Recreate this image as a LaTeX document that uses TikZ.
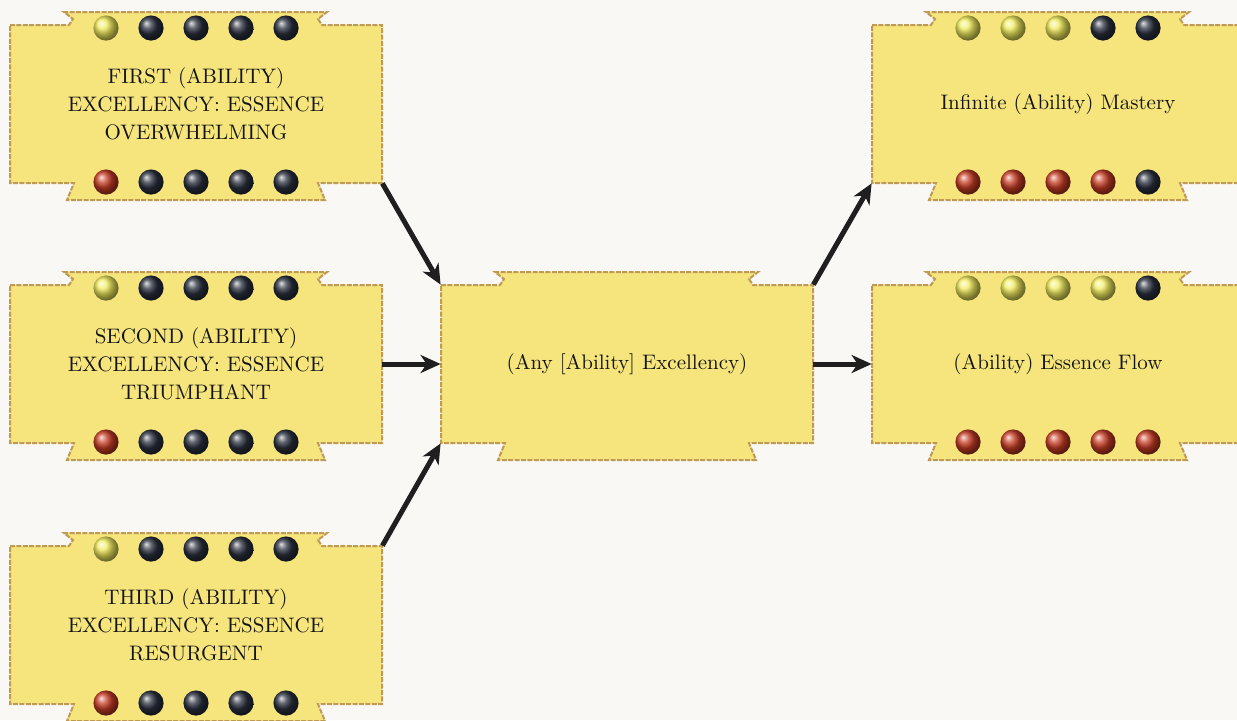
\documentclass[tikz,border=0pt]{standalone}
\usepackage{tikz}
\usetikzlibrary{arrows.meta,positioning,shadings}
\definecolor{paper}{HTML}{FAF8F4}
\definecolor{boxfill}{HTML}{F6E57C}
\definecolor{boxedge}{HTML}{BE9A55}
\definecolor{gemyel}{HTML}{F2EC5E}
\definecolor{gemred}{HTML}{C83C24}
\definecolor{gemdark}{HTML}{2A303E}
\pgfdeclarelayer{background}
\pgfsetlayers{background,main}
\tikzset{
 charm/.style={rectangle,minimum width=186pt,minimum height=79pt,inner sep=0pt,
  align=center,font=\fontsize{10.5}{14}\selectfont,text=black!92},
 frame/.style={fill=boxfill,draw=boxedge,line width=1pt,dash pattern=on 2.5pt off 0.7pt},
 link/.style={-{Stealth[length=10pt,width=9pt,inset=3pt]},line width=2.5pt,black!88},
}
\begin{document}
\begin{tikzpicture}[x=0.5pt,y=-0.5pt]
\useasboundingbox (0,0) rectangle (1237,720);
% charms
\node[charm] (first) at (196,104) {FIRST (ABILITY)\\EXCELLENCY: ESSENCE\\OVERWHELMING};
\node[charm] (second) at (196,364) {SECOND (ABILITY)\\EXCELLENCY: ESSENCE\\TRIUMPHANT};
\node[charm] (third) at (196,625) {THIRD (ABILITY)\\EXCELLENCY: ESSENCE\\RESURGENT};
\node[charm] (any) at (627,364) {(Any [Ability] Excellency)};
\node[charm] (mastery) at (1058,104) {Infinite (Ability) Mastery};
\node[charm] (flow) at (1058,364) {(Ability) Essence Flow};
% paper and scroll outlines behind the text
\begin{pgfonlayer}{background}
\fill[paper] (0,0) rectangle (1237,720);
\foreach \n in {first,second,third,any,mastery,flow}
 \draw[frame,shift={(\n.center)}] (-186,-79)--(-127,-79)--(-123,-85)--(-132,-92)--(131,-92)
  --(122,-85)--(126,-79)--(186,-79)--(186,79)--(122,79)--(129,96)--(-129,96)--(-122,79)
  --(-186,79)--cycle;
\end{pgfonlayer}
% dots: yellow on top, red below
\foreach \n/\ny/\nr in {first/1/1,second/1/1,third/1/1,mastery/3/4,flow/4/5}
 \foreach \i in {1,...,5}{
  \ifnum\i>\ny \def\topc{gemdark}\else\def\topc{gemyel}\fi
  \ifnum\i>\nr \def\botc{gemdark}\else\def\botc{gemred}\fi
  \shade[ball color=\topc,shift={(\n.center)}] ({(\i-3)*45},-76) circle (6.3pt);
  \shade[ball color=\botc,shift={(\n.center)}] ({(\i-3)*45},78) circle (6.3pt);
 }
% prerequisites
\draw[link] (first.south east)--(any.north west);
\draw[link] (second.east)--(any.west);
\draw[link] (third.north east)--(any.south west);
\draw[link] (any.north east)--(mastery.south west);
\draw[link] (any.east)--(flow.west);
\end{tikzpicture}
\end{document}
